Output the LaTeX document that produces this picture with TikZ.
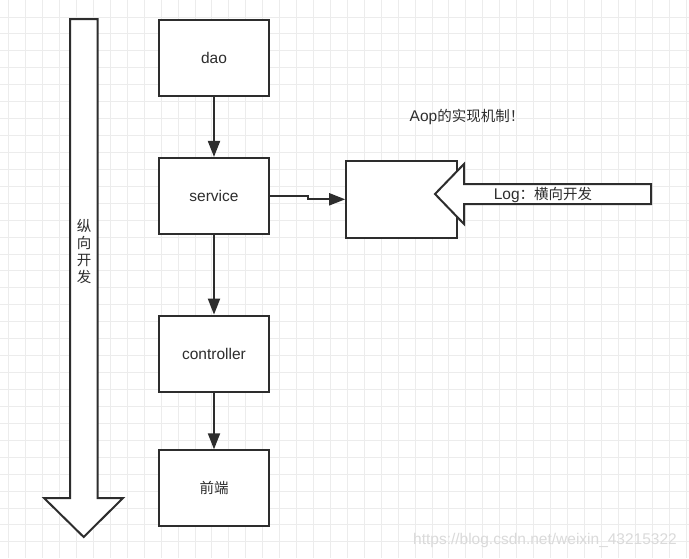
\documentclass[tikz,border=0pt]{standalone}
\usepackage{fontspec}
\setmainfont{Liberation Sans}
\newfontfamily\cjk{Noto Sans CJK SC}
\usetikzlibrary{positioning,arrows.meta}
\definecolor{inkgray}{RGB}{45,45,45}
\definecolor{gridgray}{RGB}{236,236,236}
\definecolor{markgray}{RGB}{218,218,218}
\begin{document}
\begin{tikzpicture}[
			x=1pt, y=-1pt,
			layerbox/.style={draw=inkgray, line width=2pt, fill=white, minimum width=110pt, minimum height=76pt, inner sep=0pt, text=inkgray, font=\fontsize{15.5}{18}\selectfont},
			blockarrow/.style={draw=inkgray, line width=2pt, fill=white, line join=miter},
			conn/.style={draw=inkgray, line width=2pt, -{Triangle[length=16pt,width=12pt]}},
			cjklabel/.style={text=inkgray, inner sep=0pt, font=\cjk\fontsize{14.5}{17}\selectfont}
		]
		\useasboundingbox (0,0) rectangle (689,558);
		\fill[white] (0,0) rectangle (689,558);
		\foreach \i in {0,...,40}
			\draw[gridgray, line width=0.8pt] (8.7+16.93*\i,0) -- (8.7+16.93*\i,558);
		\foreach \j in {1,...,32}
			\draw[gridgray, line width=0.8pt] (0,16.93*\j) -- (689,16.93*\j);

		\draw[blockarrow] (70,19) -- (97.5,19) -- (97.5,498) -- (123,498) -- (83.7,537) -- (44,498) -- (70,498) -- cycle;
		\node[cjklabel, align=center] (vlabel) at (84,252) {纵\\向\\开\\发};

		\node[layerbox] (dao) at (214,57.6) {dao};
		\node[layerbox, below=60.3pt of dao] (service) {service};
		\node[layerbox, below=79.7pt of service] (controller) {controller};
		\node[layerbox, below=56.7pt of controller] (front) {\cjk\fontsize{14.5}{17}\selectfont 前端};
		\node[layerbox, minimum width=111pt, minimum height=77pt] (aop) at (401.7,199.3) {};

		\draw[conn] (dao) -- (service);
		\draw[conn] (service) -- (controller);
		\draw[conn] (controller) -- (front);
		\draw[conn] (service.east) -- ++(38,0) |- (aop.west);

		\draw[blockarrow] (651,184) -- (464,184) -- (464,164) -- (435,194) -- (464,224) -- (464,204) -- (651,204) -- cycle;
		\node[cjklabel] (loglabel) at (543,195) {{\fontsize{15.5}{17}\selectfont\rmfamily Log}：横向开发};
		\node[cjklabel] (aoptitle) at (467,117) {{\fontsize{15.5}{17}\selectfont\rmfamily Aop}的实现机制！};
		\node[text=markgray, inner sep=0pt, font=\fontsize{15.5}{17}\selectfont] (mark) at (545,540) {https://blog.csdn.net/weixin\_43215322};
	\end{tikzpicture}
\end{document}
